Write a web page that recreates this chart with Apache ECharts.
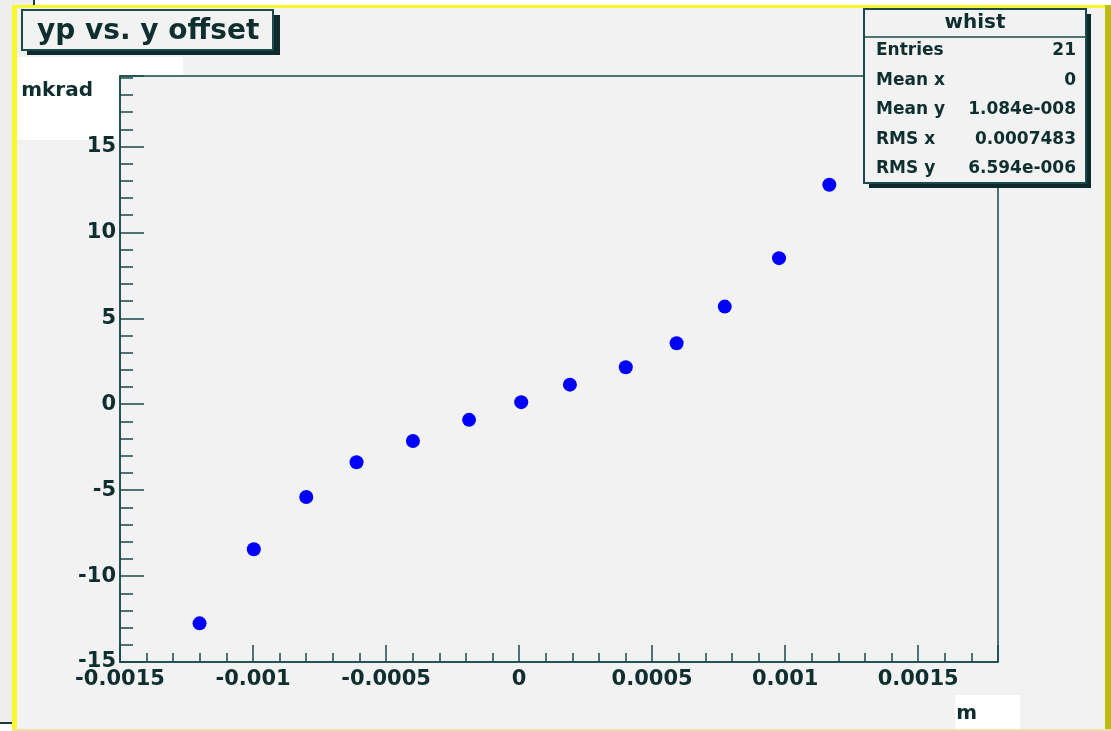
<!DOCTYPE html>
<html>
<head>
<meta charset="utf-8">
<script src="https://cdn.jsdelivr.net/npm/echarts@6/dist/echarts.min.js"></script>
<style>
  html, body { margin: 0; padding: 0; background: #fff; }
  #chart { width: 1111px; height: 731px; }
</style>
</head>
<body>
<div id="chart"></div>
<script>
// offset (m) vs. angle (mkrad)
const xOffset = [-0.001201, -0.000997, -0.000800, -0.000611, -0.000399, -0.000188, 0.000008,
                 0.000191, 0.000401, 0.000592, 0.000773, 0.000977, 0.001166];
const yAngle = [-12.75, -8.44, -5.40, -3.38, -2.14, -0.91, 0.12, 1.14, 2.15, 3.55, 5.68, 8.50, 12.77];

const statNames = ['Entries', 'Mean x', 'Mean y', 'RMS x', 'RMS y'];
const statValues = ['21', '0', '1.084e-008', '0.0007483', '6.594e-006'];

const FONT = 'DejaVu Sans';
const INK = '#0f2f2f';
const LINE = '#1a4a4a';
const SHADOW = '#0f2a2a';
const PAD = '#f2f2f2';

const chart = echarts.init(document.getElementById('chart'));

// canvas frame bits around the plot
const backdrop = [
  { type: 'rect', z: -10, shape: { x: 12, y: 5, width: 1099, height: 726 }, style: { fill: PAD } },
  { type: 'rect', z: -10, shape: { x: 0, y: 0, width: 12, height: 722 }, style: { fill: '#eeeeee' } },
  { type: 'rect', z: -10, shape: { x: 0, y: 0, width: 33, height: 5 }, style: { fill: '#eeeeee' } },
  { type: 'rect', z: -10, shape: { x: 33, y: 0, width: 2, height: 5 }, style: { fill: '#1d3b3b' } },
  { type: 'rect', z: -10, shape: { x: 0, y: 722, width: 12, height: 2 }, style: { fill: '#1d3b3b' } },
  { type: 'rect', z: -10, shape: { x: 12, y: 5, width: 1099, height: 3 }, style: { fill: '#f8f82a' } },
  { type: 'rect', z: -10, shape: { x: 12, y: 5, width: 5, height: 726 }, style: { fill: '#f8f82a' } },
  { type: 'rect', z: -10, shape: { x: 1105, y: 5, width: 6, height: 726 }, style: { fill: '#bcbc10' } },
  { type: 'rect', z: -10, shape: { x: 12, y: 729, width: 1099, height: 2 }, style: { fill: '#efe2a0' } },
  // white boxes behind the axis titles
  { type: 'rect', z: -9, shape: { x: 17, y: 57, width: 166, height: 18 }, style: { fill: '#ffffff' } },
  { type: 'rect', z: -9, shape: { x: 17, y: 75, width: 103, height: 65 }, style: { fill: '#ffffff' } },
  { type: 'rect', z: -9, shape: { x: 955, y: 695, width: 65, height: 34 }, style: { fill: '#ffffff' } },
  // hard shadow of the title box
  { type: 'rect', z: -8, shape: { x: 27, y: 15, width: 253, height: 40 }, style: { fill: SHADOW } }
];

// stats box
const statsBox = [
  { type: 'rect', z: 10, shape: { x: 869, y: 14, width: 222, height: 174 }, style: { fill: SHADOW } },
  { type: 'rect', z: 10, shape: { x: 864, y: 9, width: 222, height: 174 }, style: { fill: PAD, stroke: LINE, lineWidth: 2 } },
  { type: 'line', z: 11, shape: { x1: 864, y1: 37, x2: 1086, y2: 37 }, style: { stroke: LINE, lineWidth: 1.5 } },
  {
    type: 'text', z: 11, x: 975, y: 23,
    style: { text: 'whist', align: 'center', verticalAlign: 'middle', fontFamily: FONT, fontWeight: 'bold', fontSize: 20, fill: INK }
  }
];
statNames.forEach((name, i) => {
  const y = 51 + i * 29.4;
  statsBox.push({
    type: 'text', z: 11, x: 876, y: y,
    style: { text: name, align: 'left', verticalAlign: 'middle', fontFamily: FONT, fontWeight: 'bold', fontSize: 17, fill: INK }
  });
  statsBox.push({
    type: 'text', z: 11, x: 1076, y: y,
    style: { text: statValues[i], align: 'right', verticalAlign: 'middle', fontFamily: FONT, fontWeight: 'bold', fontSize: 17, fill: INK }
  });
});

const onStep = (v, step) => Math.abs(v / step - Math.round(v / step)) < 1e-6;

const option = {
  backgroundColor: '#ffffff',
  animation: false,
  title: {
    text: 'yp vs. y offset',
    left: 22,
    top: 10,
    padding: [8, 14, 4, 15],
    backgroundColor: PAD,
    borderColor: LINE,
    borderWidth: 2,
    textStyle: { fontFamily: FONT, fontWeight: 'bold', fontSize: 28, color: INK }
  },
  graphic: backdrop.concat(statsBox),
  grid: {
    left: 120, top: 76, right: 113, bottom: 69,
    show: true,
    backgroundColor: 'transparent',
    borderColor: LINE,
    borderWidth: 1.5
  },
  xAxis: {
    type: 'value',
    min: -0.0015,
    max: 0.0018,
    interval: 0.0005,
    name: 'm',
    nameLocation: 'end',
    nameGap: 0,
    nameTextStyle: { fontFamily: FONT, fontWeight: 'bold', fontSize: 20, color: INK, align: 'right', verticalAlign: 'top', padding: [42, 21, 0, 0] },
    axisLine: { onZero: false, lineStyle: { color: LINE, width: 1.5 } },
    axisTick: { inside: true, length: 17, lineStyle: { color: LINE, width: 1.5 } },
    minorTick: { show: true, splitNumber: 5, length: 9, lineStyle: { color: LINE, width: 1.5 } },
    splitLine: { show: false },
    axisLabel: {
      margin: 7,
      fontFamily: FONT, fontWeight: 'bold', fontSize: 21, color: INK,
      formatter: v => onStep(v, 0.0005) ? String(Number(v.toFixed(4))) : ''
    }
  },
  yAxis: {
    type: 'value',
    min: -15,
    max: 19.1,
    interval: 5,
    name: 'mkrad',
    nameLocation: 'end',
    nameGap: -5,
    nameTextStyle: { fontFamily: FONT, fontWeight: 'bold', fontSize: 20, color: INK, align: 'right', verticalAlign: 'top', padding: [0, 27, 0, 0] },
    axisLine: { onZero: false, lineStyle: { color: LINE, width: 1.5 } },
    axisTick: { inside: true, length: 24, lineStyle: { color: LINE, width: 1.5 } },
    minorTick: { show: true, splitNumber: 5, length: 13, lineStyle: { color: LINE, width: 1.5 } },
    splitLine: { show: false },
    axisLabel: {
      margin: 4,
      fontFamily: FONT, fontWeight: 'bold', fontSize: 21, color: INK,
      formatter: v => onStep(v, 5) ? String(Math.round(v)) : ''
    }
  },
  series: [{
    type: 'scatter',
    data: xOffset.map((x, i) => [x, yAngle[i]]),
    symbol: 'circle',
    symbolSize: 14,
    itemStyle: { color: '#0000ff', opacity: 1 }
  }]
};

chart.setOption(option);
</script>
</body>
</html>
